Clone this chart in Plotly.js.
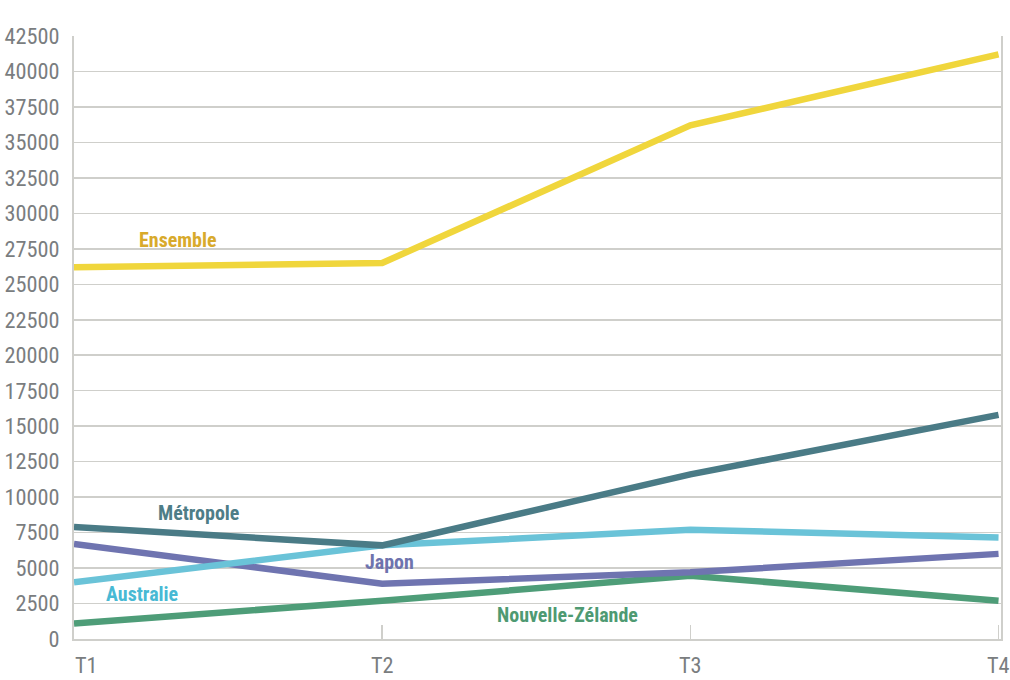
<!DOCTYPE html>
<html><head><meta charset="utf-8">
<script src="https://cdn.plot.ly/plotly-3.0.1.min.js"></script>
<style id="st">body{margin:0;background:#fff}#c{width:1010px;height:680px}</style>
</head><body><div id="c"></div>
<script>
const quarters = ["T1","T2","T3","T4"];
const ensemble = [26200, 26500, 36200, 41200];
const metropole = [7900, 6600, 11600, 15800];
const australie = [4000, 6600, 7700, 7150];
const japon = [6700, 3900, 4700, 6000];
const nouvelleZelande = [1100, 2700, 4450, 2700];
const seriesNames = ["Ensemble","Métropole","Australie","Japon","Nouvelle-Zélande"];
const lineColors = ["#f0d63c","#4a7b86","#6ac3d8","#6f74b0","#4e9d78"];
const labelColors = ["#d8aa2c","#4e7d87","#48b9d4","#6e73ad","#4e9a72"];
const labelPos = [[0.338,28150],[0.405,8850],[0.22,3150],[1.025,5450],[1.6,1700]];
const allSeries = [ensemble, metropole, australie, japon, nouvelleZelande];
const xIdx = quarters.map((q,i)=>i);

// pick a condensed font available locally
const cv = document.createElement('canvas').getContext('2d');
function meas(fam, stretch, weight, txt){
  cv.font = (weight||'normal')+' '+(stretch?'condensed ':'')+'40px '+fam;
  return cv.measureText(txt||'42500 Nouvelle-Zélande').width;
}
const mono = meas('monospace');
const cands = [
  ['"Liberation Sans Narrow"', false],
  ['"Arial Narrow"', false],
  ['"Roboto Condensed"', false],
  ['Roboto', true],
  ['"Open Sans"', true],
  ['"Noto Sans"', true],
  ['"DejaVu Sans Condensed"', false],
  ['"DejaVu Sans"', true]
];
let fam = 'Roboto', stretch = false;
for (const [f,s] of cands){
  if (!s){
    if (Math.abs(meas(f+',monospace')-mono) > 1){ fam=f; stretch=false; break; }
  } else {
    const n = meas(f+',monospace'), c = meas(f+',monospace', true);
    if (Math.abs(n-mono) > 1 && c < n*0.95){ fam=f; stretch=true; break; }
  }
}
if (stretch) document.getElementById('st').textContent += '#c text{font-stretch:condensed !important;}';
const font = fam + ',sans-serif';
// sizes fitted to reference text widths
const tickSize = Math.min(26, 55 / (meas(fam,stretch,'normal','42500')/40));
const labSize = Math.min(23, 141 / (meas(fam,stretch,'bold','Nouvelle-Zélande')/40));

const traces = allSeries.map((s,k)=>({
  x: xIdx, y: s, type:'scatter', mode:'lines', name: seriesNames[k],
  line:{color:lineColors[k], width:6.5}, hoverinfo:'skip'
}));
const order = [4,3,2,1,0];
const data = order.map(i=>traces[i]);

const annotations = seriesNames.map((n,k)=>({
  x: labelPos[k][0], y: labelPos[k][1], xref:'x', yref:'y', text:n, showarrow:false,
  font:{family:font, size:labSize, color:labelColors[k], weight:'bold'}
}));
quarters.forEach((q,i)=>{
  annotations.push({x:i, y:0, xref:'x', yref:'paper', text:q, showarrow:false,
    xanchor: i===0 ? 'left' : 'center', yanchor:'top', yshift:-12, borderpad:0,
    font:{family:font, size:tickSize, color:'#7a7d80'}});
});

Plotly.newPlot('c', data, {
  width:1010, height:680,
  margin:{l:74, r:9, t:36, b:41},
  paper_bgcolor:'#fff', plot_bgcolor:'#fff',
  showlegend:false,
  xaxis:{range:[0,3.008], tickvals:xIdx, ticktext:['','','',''], showgrid:false, zeroline:false,
    showline:true, linecolor:'#cfcfcb', linewidth:2, ticks:'inside', ticklen:14, tickcolor:'#cfcfcb', tickwidth:1.5},
  yaxis:{range:[0,42500], dtick:2500, tickformat:'d', showgrid:true, gridcolor:'#cfcfcb', gridwidth:1.5, zeroline:false,
    showline:true, mirror:true, linecolor:'#cfcfcb', linewidth:2, ticks:'', ticklabelstandoff:8,
    tickfont:{family:font, size:tickSize, color:'#7a7d80'}},
  annotations: annotations
}, {staticPlot:true});
</script></body></html>
